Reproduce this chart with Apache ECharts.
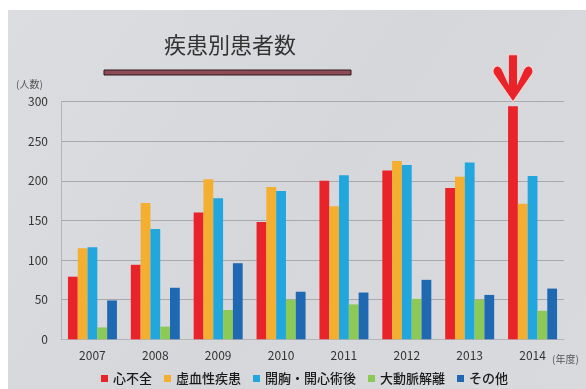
<!DOCTYPE html>
<html>
<head>
<meta charset="utf-8">
<script src="https://cdn.jsdelivr.net/npm/echarts@6/dist/echarts.min.js"></script>
<style>
  html, body { margin: 0; padding: 0; background: #ffffff; }
  #chart { width: 586px; height: 389px; }
</style>
</head>
<body>
<div id="chart"></div>
<script>
// 年度
const years = ['2007', '2008', '2009', '2010', '2011', '2012', '2013', '2014'];
// 疾患別の患者数（人）
const heartFailure   = [79, 94, 160, 148, 200, 213, 191, 294];
const ischemic       = [115, 172, 202, 192, 168, 225, 205, 171];
const postSurgery    = [116, 139, 178, 187, 207, 220, 223, 206];
const aorticDissect  = [15, 16, 37, 50, 44, 51, 50, 36];
const others         = [49, 65, 96, 60, 59, 75, 56, 64];
const seriesNames = ['心不全', '虚血性疾患', '開胸・開心術後', '大動脈解離', 'その他'];
const yTicks = [0, 50, 100, 150, 200, 250, 300];

const colors = ['#e9232a', '#f4ae30', '#22a6de', '#8dc957', '#1f69b3'];
const FONT = '"Noto Sans CJK JP", "Noto Sans", sans-serif';

const chart = echarts.init(document.getElementById('chart'), null, { renderer: 'canvas' });

// 最大値の年に付ける矢印
const arrowPath = 'path://M15.5 1 L24.5 1 L24.5 29 L31 15 Q34 10 38 13 Q41 16 39 20 L20 47 L1 20 Q-1 16 2 13 Q6 10 9 15 L15.5 29 Z';
const peakIndex = heartFailure.indexOf(Math.max(...heartFailure));

const dataSets = [heartFailure, ischemic, postSurgery, aorticDissect, others];
const series = dataSets.map((d, i) => {
  const s = {
    name: seriesNames[i],
    type: 'bar',
    data: d,
    barWidth: 9.8,
    barGap: '0%',
    itemStyle: { color: colors[i] },
    emphasis: { disabled: true }
  };
  if (i === 0) {
    s.markPoint = {
      symbol: arrowPath,
      symbolSize: [40, 47],
      symbolOffset: [0, -28],
      itemStyle: { color: '#e9232a', borderColor: '#f7d6cf', borderWidth: 1 },
      label: { show: false },
      data: [{ coord: [years[peakIndex], heartFailure[peakIndex]] }]
    };
  }
  return s;
});

chart.setOption({
  animation: false,
  backgroundColor: '#ffffff',
  graphic: [
    { type: 'rect', z: -10, shape: { x: 8, y: 10, width: 578, height: 379 },
      style: { fill: new echarts.graphic.LinearGradient(0, 0, 1, 1, [
        { offset: 0, color: '#dcdde0' },
        { offset: 0.5, color: '#d6d7da' },
        { offset: 1, color: '#d9dadd' }
      ]) } },
    { type: 'text', left: 230 - 66, top: 34,
      style: { text: '疾患別患者数', fontSize: 22, fontFamily: FONT, fill: '#333333', fontWeight: 'normal' } },
    { type: 'rect', shape: { x: 104, y: 70, width: 247, height: 5 },
      style: { fill: '#8d4c55', stroke: '#2a1a1c', lineWidth: 1 } },
    { type: 'text', left: 16, top: 79,
      style: { text: '(人数)', fontSize: 10, fontFamily: FONT, fill: '#555555' } },
    { type: 'text', left: 552, top: 354,
      style: { text: '(年度)', fontSize: 10, fontFamily: FONT, fill: '#555555' } }
  ],
  grid: { left: 61, right: 22, top: 101.5, bottom: 49.7, containLabel: false },
  legend: {
    left: 96, top: 367,
    itemWidth: 7, itemHeight: 7, itemGap: 12,
    icon: 'rect',
    textStyle: { fontSize: 13, fontFamily: FONT, color: '#1a1a1a', fontWeight: 500 },
    data: seriesNames
  },
  xAxis: {
    type: 'category',
    data: years,
    axisLine: { lineStyle: { color: '#b5b5b8' } },
    axisTick: { show: false },
    axisLabel: { fontSize: 12, fontFamily: FONT, color: '#333333', margin: 10 }
  },
  yAxis: {
    type: 'value',
    min: yTicks[0], max: yTicks[yTicks.length - 1], interval: 50,
    axisLine: { show: true, lineStyle: { color: '#b5b5b8' } },
    axisTick: { show: false },
    splitLine: { lineStyle: { color: '#a9a9ad', width: 1 } },
    axisLabel: { fontSize: 12, fontFamily: FONT, color: '#333333', margin: 13 }
  },
  series: series
});
</script>
</body>
</html>
